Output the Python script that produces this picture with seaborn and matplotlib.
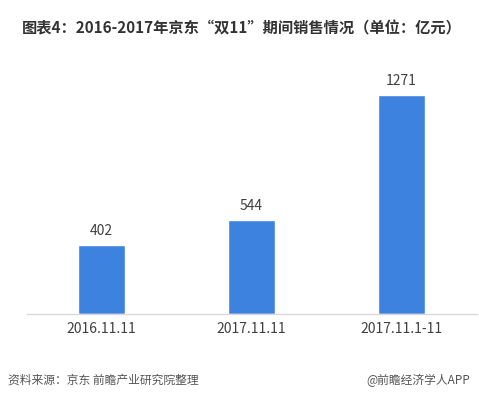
import matplotlib
matplotlib.use("Agg")
import matplotlib.pyplot as plt
import seaborn as sns
import pandas as pd

categories = ["2016.11.11", "2017.11.11", "2017.11.1-11"]
values = [402, 544, 1271]
title = "图表4：2016-2017年京东“双11”期间销售情况（单位：亿元）"
source = "资料来源：京东 前瞻产业研究院整理"
credit = "@前瞻经济学人APP"

sns.set_theme(style="white")
plt.rcParams['font.family'] = ['Noto Sans CJK SC', 'DejaVu Sans']

df = pd.DataFrame({"cat": categories, "val": values})

fig = plt.figure(figsize=(4.79, 3.98), dpi=100)
W, H = 479, 398
ax = fig.add_axes([26.5 / W, 1 - 314 / H, 450 / W, 274 / H])
sns.barplot(data=df, x="cat", y="val", color="#3e82e0", saturation=1, width=0.31, ax=ax)
ax.set_xlim(-0.5, 2.5)
ax.set_ylim(0, 1590)
ax.set_xlabel("")
ax.set_ylabel("")
ax.set_yticks([])
for s in ["top", "right", "left"]:
    ax.spines[s].set_visible(False)
ax.spines["bottom"].set_color("#d9d9d9")
ax.spines["bottom"].set_linewidth(1)
ax.tick_params(axis="x", length=0, pad=6, labelsize=10, labelcolor="#404040")
for i, v in enumerate(values):
    ax.annotate(str(v), (i, v), xytext=(0, 5), textcoords="offset points",
                ha="center", va="bottom", fontsize=10, color="#404040")

fig.text(22 / W, 1 - 28 / H, title, fontsize=11, fontweight="bold", color="#333333",
         ha="left", va="center")
fig.text(8 / W, 1 - 380 / H, source, fontsize=8.5, style="italic", color="#555555",
         ha="left", va="center")
fig.text(470 / W, 1 - 380 / H, credit, fontsize=8.5, color="#555555",
         ha="right", va="center")

fig.savefig("out.png", dpi=100)
